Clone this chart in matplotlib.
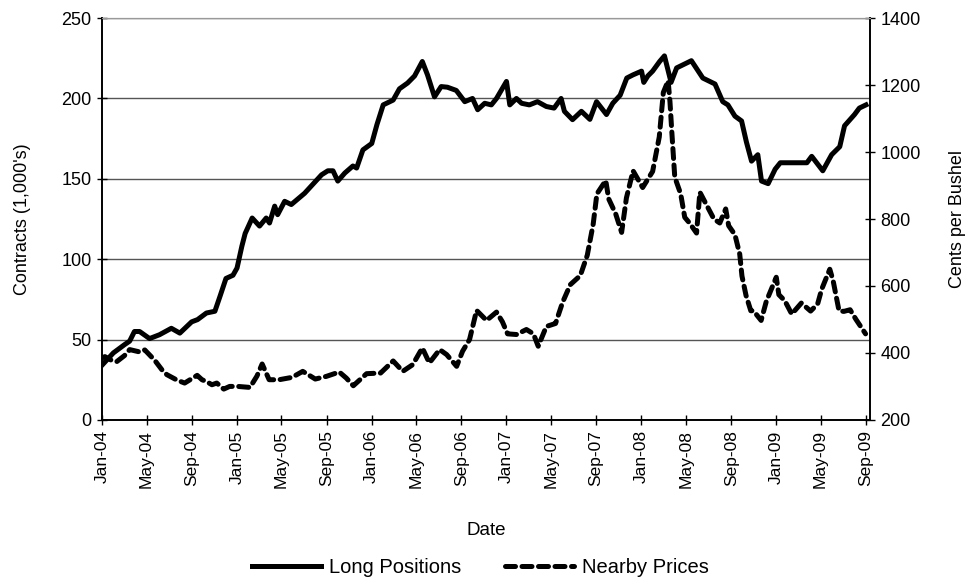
import matplotlib
matplotlib.use("Agg")
import matplotlib.pyplot as plt
import pandas as pd
from matplotlib.lines import Line2D

plt.rcParams['font.family'] = ['Liberation Sans', 'DejaVu Sans']

# Long positions (1,000's of contracts)
long_dates = ['2004-01-01', '2004-02-01', '2004-03-02', '2004-03-16', '2004-03-29', '2004-04-12',
              '2004-05-09', '2004-06-05', '2004-07-07', '2004-07-30', '2004-08-31', '2004-09-16',
              '2004-10-10', '2004-11-02', '2004-11-16', '2004-12-02', '2004-12-21', '2005-01-01',
              '2005-01-14', '2005-01-23', '2005-02-11', '2005-03-03', '2005-03-21', '2005-03-30',
              '2005-04-13', '2005-04-21', '2005-05-10', '2005-05-28', '2005-07-03', '2005-07-21',
              '2005-08-18', '2005-09-04', '2005-09-18', '2005-10-01', '2005-10-20', '2005-11-11',
              '2005-11-21', '2005-12-08', '2006-01-01', '2006-01-15', '2006-02-01', '2006-02-28',
              '2006-03-17', '2006-04-08', '2006-04-27', '2006-05-18', '2006-06-01', '2006-06-20',
              '2006-07-08', '2006-07-25', '2006-08-18', '2006-09-10', '2006-10-01', '2006-10-15',
              '2006-11-03', '2006-11-21', '2006-12-05', '2007-01-01', '2007-01-10', '2007-01-28',
              '2007-02-11', '2007-03-04', '2007-03-26', '2007-04-19', '2007-05-10', '2007-05-29',
              '2007-06-07', '2007-06-29', '2007-07-23', '2007-08-15', '2007-09-02', '2007-09-29',
              '2007-10-16', '2007-11-05', '2007-11-23', '2007-12-10', '2008-01-02', '2008-01-08',
              '2008-01-19', '2008-02-01', '2008-02-20', '2008-03-04', '2008-03-22', '2008-04-06',
              '2008-05-16', '2008-06-16', '2008-07-19', '2008-08-09', '2008-08-23', '2008-09-11',
              '2008-09-29', '2008-10-12', '2008-10-26', '2008-11-12', '2008-11-22', '2008-12-10',
              '2008-12-29', '2009-01-12', '2009-02-13', '2009-03-25', '2009-04-07', '2009-05-07',
              '2009-05-31', '2009-06-22', '2009-07-05', '2009-08-01', '2009-08-14', '2009-09-01']
long_vals = [34, 41.7, 46.8, 49, 55, 55,
             50.6, 53, 57, 54, 61, 62.4,
             66.5, 67.6, 77, 88, 90, 94.5,
             108, 116, 125.6, 120.6, 125.6, 122.5,
             133, 127.7, 136, 134, 141, 145.5,
             152.5, 155, 155, 148.6, 153.6, 158,
             156.7, 168, 172, 183.7, 196, 199,
             206, 209.6, 214, 223, 214.7, 201,
             207.4, 207, 205, 198, 200, 193,
             197, 196, 200, 210.6, 196, 200,
             197, 196, 198, 195, 194, 200,
             192, 186.8, 192, 187, 198, 190,
             197, 202, 212.7, 214.7, 217, 210,
             214, 217, 223, 226.5, 210, 219,
             223.5, 212.7, 209, 198, 196, 189,
             186, 173, 161, 165, 148.6, 147,
             156, 160, 160, 160, 164, 155,
             165, 170, 183, 190, 194, 196]

# Nearby prices (cents per bushel)
price_dates = ['2004-01-01', '2004-01-09', '2004-01-30', '2004-02-10', '2004-03-02', '2004-03-16',
               '2004-04-12', '2004-04-26', '2004-05-23', '2004-06-14', '2004-06-25', '2004-07-22',
               '2004-08-12', '2004-09-15', '2004-09-28', '2004-10-11', '2004-10-25', '2004-11-07',
               '2004-11-26', '2004-12-12', '2005-01-03', '2005-02-05', '2005-02-24', '2005-03-10',
               '2005-03-29', '2005-04-25', '2005-05-30', '2005-06-28', '2005-08-01', '2005-08-31',
               '2005-10-05', '2005-10-24', '2005-11-12', '2005-12-18', '2006-01-25', '2006-02-28',
               '2006-03-26', '2006-04-22', '2006-05-18', '2006-06-06', '2006-07-04', '2006-07-23',
               '2006-08-19', '2006-09-04', '2006-09-23', '2006-10-12', '2006-11-08', '2006-12-05',
               '2006-12-21', '2007-01-04', '2007-01-28', '2007-02-24', '2007-03-15', '2007-03-28',
               '2007-04-19', '2007-05-14', '2007-06-02', '2007-06-23', '2007-07-20', '2007-08-08',
               '2007-08-24', '2007-09-03', '2007-09-27', '2007-10-05', '2007-10-24', '2007-11-09',
               '2007-11-22', '2007-12-10', '2008-01-05', '2008-02-01', '2008-02-19', '2008-03-01',
               '2008-03-14', '2008-03-19', '2008-03-24', '2008-04-01', '2008-04-17', '2008-04-28',
               '2008-05-11', '2008-05-30', '2008-06-08', '2008-06-27', '2008-07-16', '2008-08-01',
               '2008-08-17', '2008-08-25', '2008-09-11', '2008-09-24', '2008-09-30', '2008-10-11',
               '2008-10-24', '2008-10-31', '2008-11-21', '2008-12-05', '2009-01-01', '2009-01-08',
               '2009-01-24', '2009-02-12', '2009-03-10', '2009-04-04', '2009-04-23', '2009-05-04',
               '2009-05-26', '2009-06-04', '2009-06-20', '2009-07-03', '2009-07-20', '2009-08-05',
               '2009-08-31']
price_vals = [385, 389, 376, 374, 392, 410,
              403, 409, 378, 346, 335, 319,
              310, 333, 320, 314, 305, 310,
              292, 300, 300, 297, 331, 367,
              320, 320, 327, 345, 322, 330,
              343, 325, 302, 338, 340, 376,
              345, 365, 415, 370, 410, 395,
              360, 405, 440, 527, 497, 522,
              493, 457, 455, 470, 457, 420,
              479, 488, 551, 604, 631, 692,
              785, 875, 915, 860, 815, 760,
              863, 944, 894, 942, 1045, 1178,
              1213, 1150, 1060, 925, 875, 805,
              788, 758, 880, 840, 800, 788,
              830, 780, 753, 695, 630, 572,
              526, 526, 497, 554, 626, 574,
              556, 516, 549, 525, 546, 590,
              650, 616, 526, 524, 529, 500,
              457]

xtick_labels = ['Jan-04', 'May-04', 'Sep-04', 'Jan-05', 'May-05', 'Sep-05', 'Jan-06', 'May-06',
                'Sep-06', 'Jan-07', 'May-07', 'Sep-07', 'Jan-08', 'May-08', 'Sep-08', 'Jan-09',
                'May-09', 'Sep-09']

ld = pd.to_datetime(long_dates)
pdt = pd.to_datetime(price_dates)
ticks = pd.to_datetime(xtick_labels, format='%b-%y')

fig = plt.figure(figsize=(9.71, 5.84), dpi=100)
ax = fig.add_axes([0.105, 0.281, 0.791, 0.688])
ax2 = ax.twinx()

ax.set_ylim(0, 250)
ax.set_yticks([0, 50, 100, 150, 200, 250])
ax2.set_ylim(200, 1400)
ax2.set_yticks(range(200, 1401, 200))

ax.yaxis.grid(True, color='#555555', linewidth=1.0)
ax.set_axisbelow(True)

dash = (0, (2.0, 1.3))
ax.plot(ld, long_vals, color='black', linewidth=3.6, solid_joinstyle='round', zorder=3)
ax2.plot(pdt, price_vals, color='black', linewidth=3.6, linestyle=dash,
         dash_capstyle='round', zorder=3)

ax.set_xlim(pd.Timestamp('2004-01-01'), pd.Timestamp('2009-09-12'))
ax.set_xticks(ticks)
ax.set_xticklabels(xtick_labels, rotation=90)

for a in (ax, ax2):
    a.tick_params(direction='inout', length=7, width=1, color='black', pad=4)
    a.tick_params(axis='y', labelsize=13)
    a.spines['top'].set_color('#999999')
    a.spines['left'].set_linewidth(1.2)
    a.spines['right'].set_linewidth(1.2)
    a.spines['bottom'].set_linewidth(1.2)
ax.tick_params(axis='x', labelsize=12.5)

ax.set_xlabel('Date', fontsize=13.5, labelpad=24)
ax.set_ylabel("Contracts (1,000's)", fontsize=13, labelpad=22)
ax2.set_ylabel('Cents per Bushel', fontsize=13, labelpad=20)

handles = [Line2D([], [], color='black', linewidth=3.6),
           Line2D([], [], color='black', linewidth=3.6, linestyle=dash, dash_capstyle='round')]
fig.legend(handles, ['Long Positions', 'Nearby Prices'], loc='center', bbox_to_anchor=(0.495, 0.028),
           ncol=2, frameon=False, fontsize=14.5, handlelength=3.4, columnspacing=2.2, handletextpad=0.4)

fig.savefig('out.png', dpi=100)
